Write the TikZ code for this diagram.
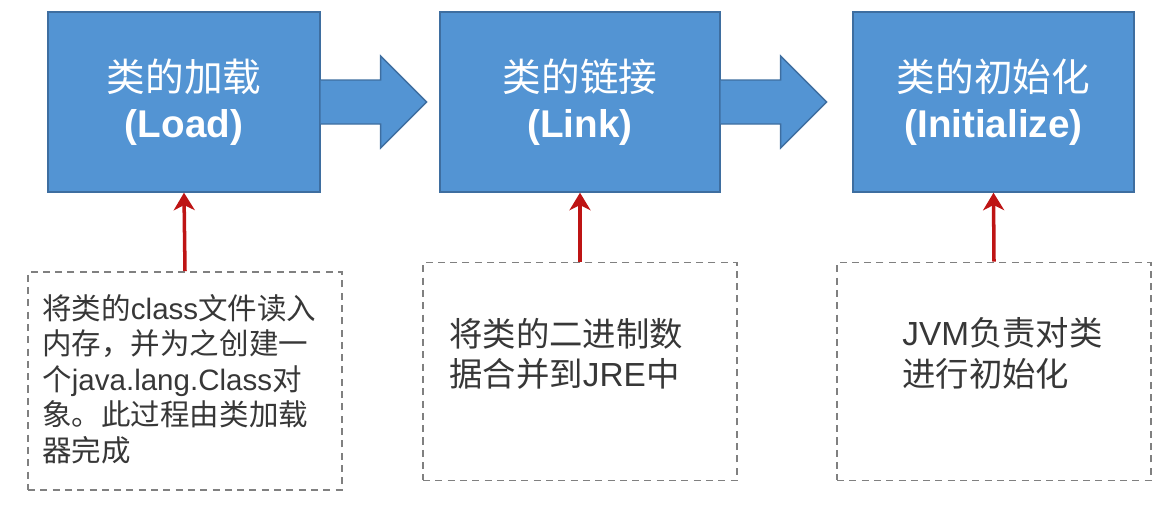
\documentclass[tikz,border=0pt]{standalone}
\usepackage{fontspec}
\setmainfont{Liberation Sans}
\newfontfamily\cjk{Noto Sans CJK SC}
\usetikzlibrary{positioning,calc,arrows.meta}

\definecolor{stageblue}{RGB}{83,148,211}
\definecolor{stageedge}{RGB}{62,110,160}
\definecolor{noteline}{RGB}{128,128,128}
\definecolor{notegray}{RGB}{55,55,55}
\definecolor{feedred}{RGB}{190,20,20}

\begin{document}
\begin{tikzpicture}[x=0.02cm, y=-0.02cm,
    stage/.style={draw=stageedge, fill=stageblue, line width=0.8pt,
        minimum height=3.6cm, align=center,
        text=white, font=\fontsize{22}{26.5}\selectfont},
    note/.style={draw=noteline, dash pattern=on 4pt off 3pt, line width=1.1pt,
        minimum width=6.28cm, minimum height=4.36cm},
    notetext/.style={inner sep=0pt, align=left, anchor=north west, text=notegray},
    feed/.style={draw=feedred, line width=2pt, -{Stealth[length=10pt,width=12pt,inset=3pt]}}]
    \useasboundingbox (0,0) rectangle (1170,529);

    \node[stage, minimum width=5.44cm] (load) at (184,102)
        {{\cjk 类的加载}\\\textbf{(Load)}};
    \node[stage, minimum width=5.6cm] (link) at (580,102)
        {{\cjk 类的链接}\\\textbf{(Link)}};
    \node[stage, minimum width=5.62cm] (init) at (993.5,102)
        {{\cjk 类的初始化}\\\textbf{(Initialize)}};

    % block arrows between the stages
    \foreach \s in {load,link}
        \filldraw[fill=stageblue, draw=stageedge, line width=0.8pt]
            ($(\s.east)+(0,-22)$) -- ++(60,0) -- ++(0,-24)
            -- ($(\s.east)+(106,0)$) -- ($(\s.east)+(60,46)$)
            -- ++(0,-24) -- ($(\s.east)+(0,22)$);

    \node[note] (loadnote) at (185,381) {};
    \node[note] (linknote) at (580,371.5) {};
    \node[note] (initnote) at (994,371.5) {};

    \draw[feed] (loadnote.north) -- (load.south);
    \draw[feed] (linknote.north) -- (link.south);
    \draw[feed] (initnote.north) -- (init.south);

    \node[notetext, font=\fontsize{16.8}{20.2}\selectfont] (loadtext)
        at ($(loadnote.north west)+(15,23)$)
        {{\cjk 将类的}class{\cjk 文件读入}\\
         {\cjk 内存，并为之创建一}\\
         {\cjk 个}java.lang.Class{\cjk 对}\\
         {\cjk 象。此过程由类加载}\\
         {\cjk 器完成}};
    \node[notetext, font=\fontsize{19}{22.8}\selectfont] (linktext)
        at ($(linknote.north west)+(27,56)$)
        {{\cjk 将类的二进制数}\\{\cjk 据合并到}JRE{\cjk 中}};
    \node[notetext, font=\fontsize{19}{22.8}\selectfont] (inittext)
        at ($(initnote.north west)+(66,56)$)
        {JVM{\cjk 负责对类}\\{\cjk 进行初始化}};
\end{tikzpicture}
\end{document}
